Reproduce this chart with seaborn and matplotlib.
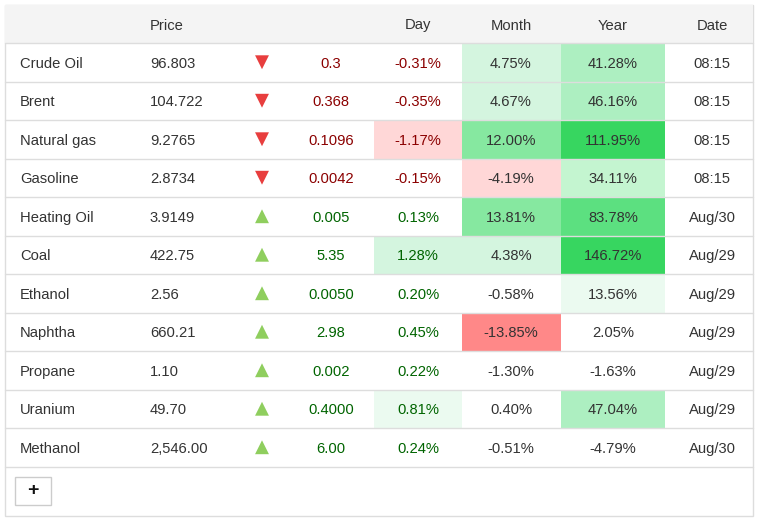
import matplotlib
matplotlib.use("Agg")
import matplotlib.pyplot as plt
from matplotlib.patches import Rectangle
import seaborn as sns
import pandas as pd

# table data
names = ["Crude Oil", "Brent", "Natural gas", "Gasoline", "Heating Oil", "Coal",
         "Ethanol", "Naphtha", "Propane", "Uranium", "Methanol"]
prices = ["96.803", "104.722", "9.2765", "2.8734", "3.9149", "422.75",
          "2.56", "660.21", "1.10", "49.70", "2,546.00"]
changes = ["0.3", "0.368", "0.1096", "0.0042", "0.005", "5.35",
           "0.0050", "2.98", "0.002", "0.4000", "6.00"]
direction = ["down", "down", "down", "down", "up", "up", "up", "up", "up", "up", "up"]
day = [-0.31, -0.35, -1.17, -0.15, 0.13, 1.28, 0.20, 0.45, 0.22, 0.81, 0.24]
month = [4.75, 4.67, 12.00, -4.19, 13.81, 4.38, -0.58, -13.85, -1.30, 0.40, -0.51]
year = [41.28, 46.16, 111.95, 34.11, 83.78, 146.72, 13.56, 2.05, -1.63, 47.04, -4.79]
dates = ["08:15", "08:15", "08:15", "08:15", "Aug/30", "Aug/29",
         "Aug/29", "Aug/29", "Aug/29", "Aug/29", "Aug/30"]

sns.set_theme(style="white")
plt.rcParams['font.family'] = ['Liberation Sans', 'DejaVu Sans']

# colour scale per column: (threshold, colour), checked in order
greens = {"g1": "#ebfaf0", "g2": "#d4f5df", "g3": "#c4f5d0", "g4": "#adefc1",
          "g5": "#86e8a0", "g6": "#5ce080", "g7": "#37d660"}
reds = {"r1": "#ffd7d7", "r3": "#ff8888"}
scales = {
    "day": ([(1, "g2"), (0.5, "g1")], [(-1, "r1")]),
    "month": ([(10, "g5"), (2, "g2")], [(-10, "r3"), (-2, "r1")]),
    "year": ([(100, "g7"), (60, "g6"), (40, "g4"), (20, "g3"), (10, "g1")], []),
}


def cell_color(v, col):
    pos, neg = scales[col]
    if v > 0:
        for t, c in pos:
            if v >= t:
                return greens[c]
    else:
        for t, c in neg:
            if v <= t:
                return reds[c]
    return None


fig = plt.figure(figsize=(7.6, 5.21), dpi=100)
ax = fig.add_axes([0, 0, 1, 1])

left, right, top = 5, 753, 5
head_h = 38
row_h = 38.5
y0 = top + head_h
txt = "#333333"
fs = 10.6
dy = 1.5  # text sits a touch below the row middle

# outer box and header
ax.add_patch(Rectangle((left, top), right - left, 511, fill=False, ec="#dddddd", lw=1))
ax.add_patch(Rectangle((left, top), right - left, head_h, fc="#f4f4f4", ec="none"))

col_edges = {"day": (374, 462), "month": (462, 561), "year": (561, 665)}
centers = {"change": 331, "day": 418, "month": 511, "year": 613, "date": 712}

ax.text(150, top + head_h / 2 + dy, "Price", ha="left", va="center", fontsize=fs, color=txt)
for lab, key in [("Day", "day"), ("Month", "month"), ("Year", "year"), ("Date", "date")]:
    ax.text(centers[key], top + head_h / 2 + dy, lab, ha="center", va="center", fontsize=fs, color=txt)

rows = pd.DataFrame({"name": names, "price": prices, "change": changes, "dir": direction,
                     "day": day, "month": month, "year": year, "date": dates})

for i, r in rows.iterrows():
    ry = y0 + i * row_h
    cy = ry + row_h / 2 + dy
    for col in ["day", "month", "year"]:
        c = cell_color(r[col], col)
        if c:
            x1, x2 = col_edges[col]
            ax.add_patch(Rectangle((x1, ry), x2 - x1, row_h, fc=c, ec="none"))
    ax.plot([left, right], [ry, ry], color="#dddddd", lw=1)
    dcol = "#8b0000" if r["dir"] == "down" else "#006400"
    ax.text(20, cy, r["name"], ha="left", va="center", fontsize=fs, color=txt)
    ax.text(150, cy, r["price"], ha="left", va="center", fontsize=fs, color=txt)
    ax.text(centers["change"], cy, r["change"], ha="center", va="center", fontsize=fs, color=dcol)
    ax.text(centers["day"], cy, f"{r['day']:.2f}%", ha="center", va="center", fontsize=fs, color=dcol)
    ax.text(centers["month"], cy, f"{r['month']:.2f}%", ha="center", va="center", fontsize=fs, color=txt)
    ax.text(centers["year"], cy, f"{r['year']:.2f}%", ha="center", va="center", fontsize=fs, color=txt)
    ax.text(centers["date"], cy, r["date"], ha="center", va="center", fontsize=fs, color=txt)
ax.plot([left, right], [y0 + len(rows) * row_h] * 2, color="#dddddd", lw=1)

# arrows
rows["ax"] = 262
rows["ay"] = [y0 + i * row_h + row_h / 2 for i in range(len(rows))]
sns.scatterplot(data=rows, x="ax", y="ay", hue="dir", style="dir",
                markers={"down": "v", "up": "^"},
                palette={"down": "#e83e3e", "up": "#8fce5e"},
                s=100, linewidth=0, legend=False, ax=ax)
ax.set_xlim(0, 760)
ax.set_ylim(521, 0)
ax.axis("off")

# plus button
ax.add_patch(Rectangle((15, 477), 36, 28, fc="white", ec="#cccccc", lw=1))
ax.text(33, 491, "+", ha="center", va="center", fontsize=14, fontweight="bold", color="#111111")

fig.savefig("out.png", dpi=100)
